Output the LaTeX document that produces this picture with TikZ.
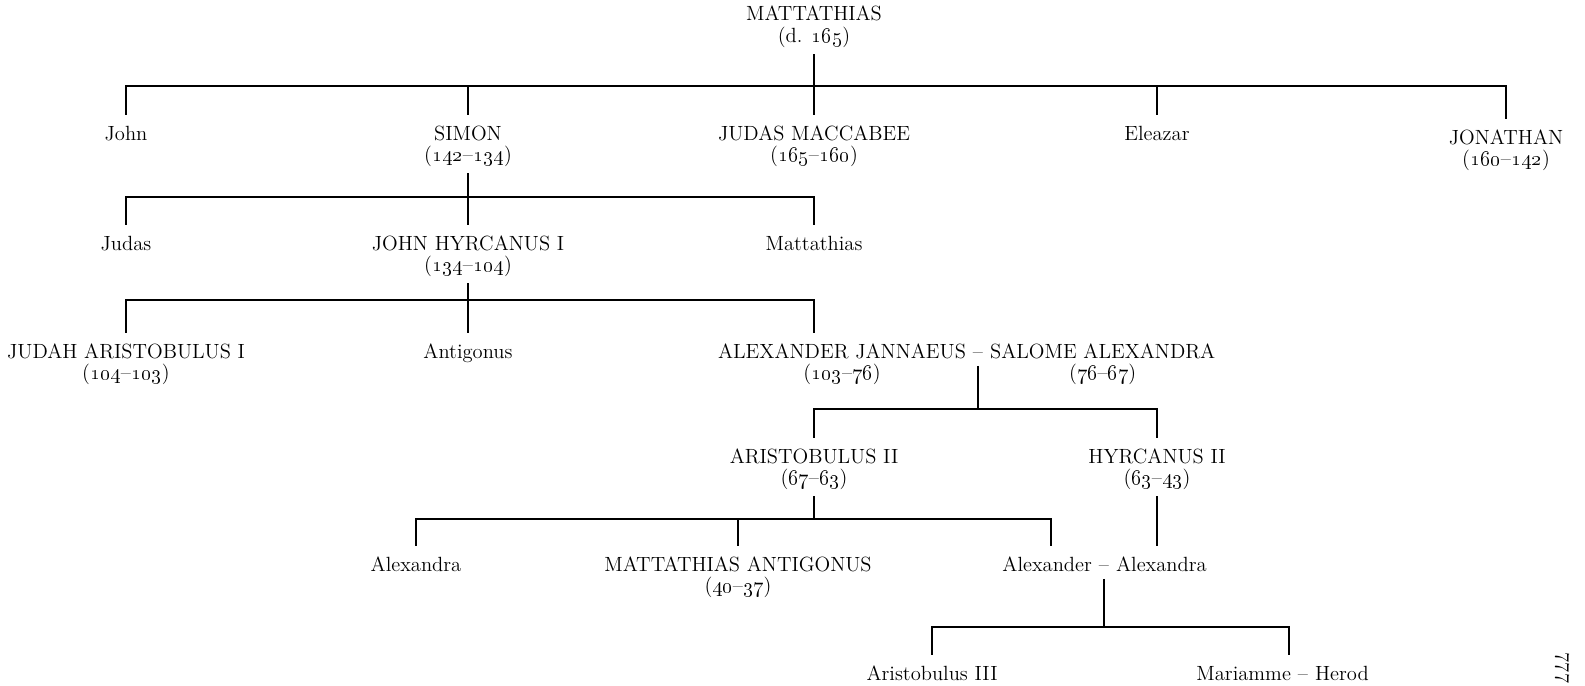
\documentclass[tikz,border=0pt]{standalone}
\usetikzlibrary{positioning}
\newcommand{\yrs}[2]{(\oldstylenums{#1}--\oldstylenums{#2})}
\begin{document}
\begin{tikzpicture}[x=0.02cm, y=-0.02cm, line width=1.1pt,
  every node/.style={font=\fontsize{11.7}{14}\selectfont, inner xsep=2pt, inner ysep=0pt, outer sep=0pt, anchor=base},
  ruler/.style={text height=8pt, text depth=2pt, outer ysep=6.5pt},
  reign/.style={text height=8pt, text depth=3pt, outer ysep=4pt},
  link/.style={text height=5pt, text depth=0pt, outer ysep=4.5pt}]
  \useasboundingbox (0,0) rectangle (1585,686);

  \node[ruler] (matt) at (814,21) {MATTATHIAS};
  \node[reign] (mattd) at ([yshift=-12pt]matt.base) {(d. \oldstylenums{165})};

  % sons of Mattathias
  \node[ruler] (john) at (126,140) {John};
  \node[ruler] (simon) at (468,140) {SIMON};
  \node[reign] (simond) at ([yshift=-12pt]simon.base) {\yrs{142}{134}};
  \node[ruler] (judas) at (814,140) {JUDAS MACCABEE};
  \node[reign] (judasd) at ([yshift=-12pt]judas.base) {\yrs{165}{160}};
  \node[ruler] (eleazar) at (1157,140) {Eleazar};
  \node[ruler] (jonathan) at (1506,144) {JONATHAN};
  \node[reign] (jonathand) at ([yshift=-12pt]jonathan.base) {\yrs{160}{142}};

  % sons of Simon
  \node[ruler] (judasb) at (126,250) {Judas};
  \node[ruler] (hyrcanus) at (468,250) {JOHN HYRCANUS I};
  \node[reign] (hyrcanusd) at ([yshift=-12pt]hyrcanus.base) {\yrs{134}{104}};
  \node[ruler] (mattb) at (814,250) {Mattathias};

  % sons of John Hyrcanus
  \node[ruler] (judah) at (126,358) {JUDAH ARISTOBULUS I};
  \node[reign] (judahd) at ([yshift=-12pt]judah.base) {\yrs{104}{103}};
  \node[ruler] (antigonus) at (468,358) {Antigonus};
  \node[link] (wed1) at (978,358) {--};
  \node[ruler, base left=0pt of wed1] (jannaeus) {ALEXANDER JANNAEUS};
  \node[reign] (jannaeusd) at ([yshift=-12pt]jannaeus.base) {\yrs{103}{76}};
  \node[ruler, base right=0pt of wed1] (salome) {SALOME ALEXANDRA};
  \node[reign] (salomed) at ([yshift=-12pt]salome.base) {\yrs{76}{67}};

  \node[ruler] (aristobulus) at (814,463) {ARISTOBULUS II};
  \node[reign] (aristobulusd) at ([yshift=-12pt]aristobulus.base) {\yrs{67}{63}};
  \node[ruler] (hyrcanusb) at (1157,463) {HYRCANUS II};
  \node[reign] (hyrcanusbd) at ([yshift=-12pt]hyrcanusb.base) {\yrs{63}{43}};

  \node[ruler] (alexandra) at (416,571) {Alexandra};
  \node[ruler] (antigonusb) at (738,571) {MATTATHIAS ANTIGONUS};
  \node[reign] (antigonusbd) at ([yshift=-12pt]antigonusb.base) {\yrs{40}{37}};
  \node[link] (wed2) at (1104,571) {--};
  \node[ruler, base left=0pt of wed2] (alexander) {Alexander};
  \node[ruler, base right=0pt of wed2] (alexandrab) {Alexandra};

  \node[ruler] (aristobulusb) at (932,680) {Aristobulus III};
  \node[link] (wed3) at (1303,680) {--};
  \node[ruler, base left=0pt of wed3] (mariamme) {Mariamme};
  \node[ruler, base right=0pt of wed3] (herod) {Herod};

  \node[rotate=-90, anchor=center] (folio) at (1562,668) {777};

  % lines of descent
  \coordinate (fam1) at (814,86);
  \draw (mattd.south) -- (fam1);
  \draw (john.north) |- (fam1) -| (jonathan.north);
  \foreach \n in {simon,judas,eleazar}
    \draw (\n.north) -- (\n.north |- fam1);

  \coordinate (fam2) at (468,197);
  \draw (simond.south) -- (fam2);
  \draw (judasb.north) |- (fam2) -| (mattb.north);
  \draw (hyrcanus.north) -- (hyrcanus.north |- fam2);

  \coordinate (fam3) at (468,300);
  \coordinate (fam3r) at (814,300);
  \draw (hyrcanusd.south) -- (fam3);
  \draw (judah.north) |- (fam3) -| (fam3r |- jannaeus.north);
  \draw (antigonus.north) -- (antigonus.north |- fam3);

  \coordinate (fam4) at (978,409);
  \draw (wed1.south) -- (fam4);
  \draw (aristobulus.north) |- (fam4) -| (hyrcanusb.north);

  \coordinate (fam5) at (814,519);
  \coordinate (fam5r) at (1051,519);
  \draw (aristobulusd.south) -- (fam5);
  \draw (alexandra.north) |- (fam5) -| (fam5r |- alexander.north);
  \draw (antigonusb.north) -- (antigonusb.north |- fam5);
  \draw (hyrcanusbd.south) -- (hyrcanusbd.south |- alexandrab.north);

  \coordinate (fam6) at (1104,627);
  \coordinate (fam6r) at (1289,627);
  \draw (wed2.south) -- (fam6);
  \draw (aristobulusb.north) |- (fam6) -| (fam6r |- mariamme.north);
\end{tikzpicture}
\end{document}
